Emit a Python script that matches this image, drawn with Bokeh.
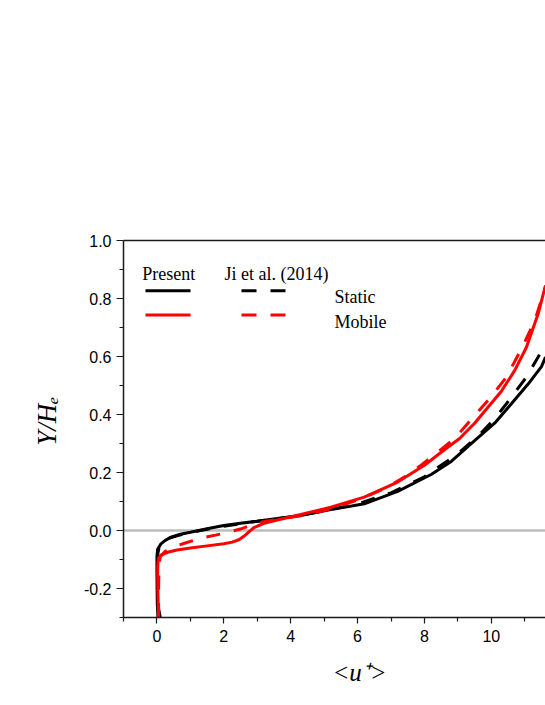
from math import pi
from bokeh.plotting import figure
from bokeh.models import (Range1d, FixedTicker, PrintfTickFormatter, LinearAxis,
                          Label, Arrow, Span)
from bokeh.embed import file_html
from bokeh.resources import INLINE

# ---------------- data ----------------
x_major_ticks = [0, 2, 4, 6, 8, 10]
x_minor_ticks = [-1, 1, 3, 5, 7, 9, 11]
y_major_ticks = [-0.2, 0.0, 0.2, 0.4, 0.6, 0.8, 1.0]
y_minor_ticks = [-0.3, -0.1, 0.1, 0.3, 0.5, 0.7, 0.9]

x_title = "<u\u207a>"
y_title = "Y/H\u2091"
header_present = "Present"
header_ji = "Ji et al. (2014)"
case_names = ["Static", "Mobile"]

# Present, static (black solid)
present_static_u = [0.03, 0.01, 0.0, 0.0, 0.02, 0.12, 0.25, 0.42, 0.7, 1.0, 1.5, 2.0, 2.5,
                    3.0, 3.6, 4.3, 5.2, 6.2, 7.2, 8.2, 8.8, 9.5, 10.1, 10.6, 11.1, 11.5, 11.62]
present_static_y = [-0.30, -0.25, -0.15, -0.09, -0.065, -0.046, -0.034, -0.023, -0.013, -0.006,
                    0.006, 0.017, 0.025, 0.032, 0.041, 0.052, 0.072, 0.092, 0.135, 0.193, 0.238,
                    0.31, 0.37, 0.437, 0.505, 0.565, 0.598]

# Ji et al. (2014), static (black dashed)
ji_static_u = [0.1, 0.05, 0.02, 0.02, 0.06, 0.18, 0.4, 0.8, 1.3, 2.0, 3.0, 4.0, 5.0, 6.0,
               7.0, 8.0, 9.0, 9.6, 10.1, 10.45, 11.05, 11.4, 11.62]
ji_static_y = [-0.30, -0.27, -0.15, -0.085, -0.06, -0.04, -0.025, -0.012, 0.0, 0.015, 0.032,
               0.047, 0.068, 0.092, 0.13, 0.185, 0.265, 0.325, 0.385, 0.437, 0.529, 0.598, 0.645]

# Present, mobile (red solid)
present_mobile_u = [0.05, 0.03, 0.02, 0.03, 0.05, 0.12, 0.32, 0.6, 1.0, 1.5, 2.0, 2.25, 2.45,
                    2.6, 2.75, 2.9, 3.2, 3.6, 4.3, 5.2, 6.2, 7.2, 8.0, 8.5, 9.05, 9.5, 9.9,
                    10.3, 10.7, 11.05, 11.4, 11.62]
present_mobile_y = [-0.30, -0.22, -0.15, -0.11, -0.095, -0.085, -0.075, -0.067, -0.06, -0.053,
                    -0.046, -0.04, -0.032, -0.02, -0.005, 0.01, 0.025, 0.036, 0.055, 0.08,
                    0.115, 0.167, 0.225, 0.27, 0.317, 0.37, 0.425, 0.48, 0.552, 0.632, 0.747,
                    0.845]

# Ji et al. (2014), mobile (red dashed)
ji_mobile_u = [0.05, 0.05, 0.06, 0.1, 0.25, 0.5, 0.8, 1.1, 1.4, 1.75, 2.1, 2.5, 2.9, 3.3, 3.8,
               4.5, 5.2, 6.0, 6.8, 7.4, 7.9, 8.5, 8.9, 9.3, 9.95, 10.45, 10.9, 11.3, 11.62]
ji_mobile_y = [-0.30, -0.2, -0.12, -0.09, -0.072, -0.056, -0.045, -0.034, -0.024, -0.016,
               -0.007, 0.005, 0.022, 0.033, 0.042, 0.055, 0.075, 0.105, 0.144, 0.184, 0.225,
               0.28, 0.317, 0.37, 0.455, 0.529, 0.626, 0.724, 0.84]

# ---------------- figure ----------------
AX = "#1a1a1a"
SANS = "Liberation Sans"
SERIF = "Liberation Serif"
DASH = "14 14"

p = figure(width=545, height=700, x_range=Range1d(-1, 11.62), y_range=Range1d(-0.3, 1.0),
           output_backend="svg", toolbar_location=None,
           min_border_left=123, min_border_right=0, min_border_top=240, min_border_bottom=83)
p.outline_line_color = None
p.xgrid.visible = False
p.ygrid.visible = False
p.background_fill_color = "white"
p.border_fill_color = "white"

for ax in (p.xaxis[0], p.yaxis[0]):
    ax.axis_line_color = AX
    ax.axis_line_width = 1.5
    ax.major_tick_line_color = AX
    ax.minor_tick_line_color = AX
    ax.major_tick_line_width = 1.2
    ax.minor_tick_line_width = 1.2
    ax.major_tick_in = 0
    ax.minor_tick_in = 0
    ax.minor_tick_out = 4
    ax.major_label_text_font = SANS
    ax.major_label_text_font_size = "16px"
    ax.major_label_text_color = "black"
    ax.axis_label_text_font = SERIF
    ax.axis_label_text_font_style = "italic"
    ax.axis_label_text_color = "black"

p.xaxis.ticker = FixedTicker(ticks=x_major_ticks, minor_ticks=x_minor_ticks)
p.xaxis.major_tick_out = 6
p.xaxis.major_label_standoff = 6
p.xaxis.axis_label = "\u2003\u2003" + x_title
p.xaxis.axis_label_text_font_size = "25px"
p.xaxis.axis_label_standoff = 14

p.yaxis.ticker = FixedTicker(ticks=y_major_ticks, minor_ticks=y_minor_ticks)
p.yaxis.formatter = PrintfTickFormatter(format="%.1f")
p.yaxis.major_tick_out = 7
p.yaxis.major_label_standoff = 5
p.yaxis.axis_label = "\u2002\u200a" + y_title
p.yaxis.axis_label_text_font_size = "27px"
p.yaxis.axis_label_standoff = 19

top_axis = LinearAxis(ticker=FixedTicker(ticks=[], minor_ticks=[]),
                      major_label_text_font_size="0px", major_tick_out=0, minor_tick_out=0,
                      axis_line_color=AX, axis_line_width=1.5)
p.add_layout(top_axis, "above")

p.add_layout(Span(location=0, dimension="width", line_color="#bdbdbd", line_width=2.5,
                  level="underlay"))

p.line(present_static_u, present_static_y, line_color="black", line_width=3)
p.line(ji_static_u, ji_static_y, line_color="black", line_width=3, line_dash=DASH)
p.line(ji_mobile_u, ji_mobile_y, line_color="#ff0000", line_width=3, line_dash=DASH)
p.line(present_mobile_u, present_mobile_y, line_color="#ff0000", line_width=3)

# ---------------- legend (screen units, relative to frame) ----------------
def lab(text, x, y, size):
    p.add_layout(Label(x=x, y=y, x_units="screen", y_units="screen", text=text,
                       text_font=SERIF, text_font_size=size, text_align="left",
                       text_baseline="alphabetic", text_color="black"))

def seg(x0, x1, y, color, dash="solid"):
    p.add_layout(Arrow(start=None, end=None, x_start=x0, y_start=y, x_end=x1, y_end=y,
                       start_units="screen", end_units="screen", line_color=color,
                       line_width=3, line_dash=dash))

lab(header_present, 18.7, 343.7, "18px")
lab(header_ji, 101, 343.7, "18px")
seg(22, 67, 326.7, "black")
seg(22, 67, 302.4, "#ff0000")
seg(118, 162, 326.7, "black", "15 14")
seg(118, 162, 302.4, "#ff0000", "15 14")
lab(case_names[0], 211, 320.4, "18px")
lab(case_names[1], 211, 295.4, "18px")

open("out.html", "w").write(file_html(p, INLINE))
